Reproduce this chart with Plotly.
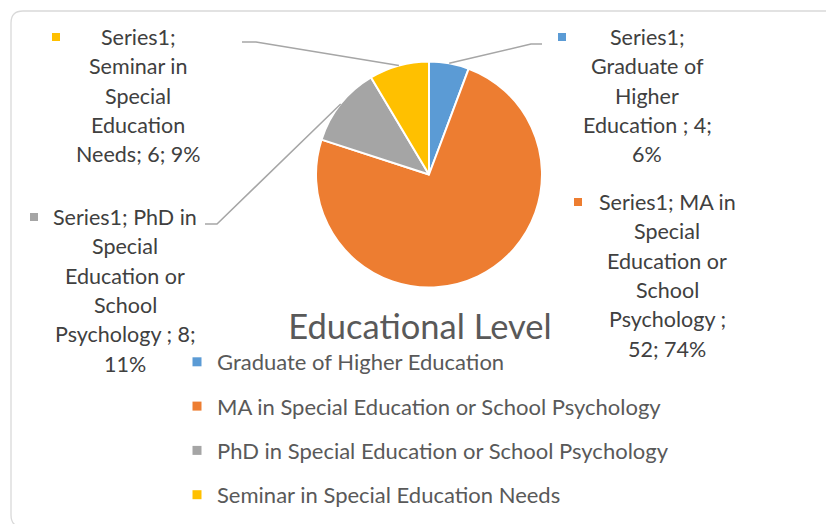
import math
import textwrap
import plotly.graph_objects as go

# data
categories = ['Graduate of Higher Education ', 'MA in Special Education or School Psychology ',
              'PhD in Special Education or School Psychology ', 'Seminar in Special Education Needs']
values = [4, 52, 8, 6]
colors = ['#5B9BD5', '#ED7D31', '#A5A5A5', '#FFC000']
series_name = 'Series1'
title_text = 'Educational Level'

W, H = 834, 524
OFF = 8  # page body margin
CX, CY, R = 429, 174.5, 113
FONT = 'Lato'


def px_x(p):
    return (p - OFF) / W


def px_y(p):
    return 1 - (p - OFF) / H


# label layout: (centre x, first line y, marker x, wrap width, leader start, leader elbow)
label_layout = [
    (647, 37, 562, 14, (542, 44), (531, 44)),
    (667, 202, 578, 14, None, None),
    (125, 217, 34, 15, (205, 224), (217, 224)),
    (138, 37, 56, 12, (242, 42), (256, 42)),
]
LINE_STEP = 29.3

total = sum(values)

fig = go.Figure()
fig.add_trace(go.Pie(
    labels=[c.strip() for c in categories], values=values, sort=False, direction='clockwise',
    rotation=0, marker=dict(colors=colors, line=dict(color='white', width=2)),
    textinfo='none', hoverinfo='label+value+percent', showlegend=False,
    domain=dict(x=[px_x(CX - R), px_x(CX + R)], y=[px_y(CY + R), px_y(CY - R)]),
))

# legend entries
for c, col in zip(categories, colors):
    fig.add_trace(go.Scatter(x=[None], y=[None], mode='markers', name=c.strip(), legendgroup=c,
                             marker=dict(symbol='square', size=9, color=col)))

annotations = []
shapes = []
cum = 0
for v, c, col, (lx, ly, mx, wrap_w, p0, p1) in zip(values, categories, colors, label_layout):
    mid = (cum + v / 2) / total * 360
    cum += v
    pct = round(v / total * 100)
    text = ' '.join(f'{series_name}; {c}; {v}; {pct}%'.split())
    lines = textwrap.wrap(text, wrap_w, break_on_hyphens=False)
    for i, ln in enumerate(lines):
        annotations.append(dict(x=lx, y=ly + i * LINE_STEP, xref='x', yref='y', text=ln, showarrow=False,
                                xanchor='center', yanchor='middle',
                                font=dict(family=FONT, size=21.5, color='#404040')))
    shapes.append(dict(type='rect', xref='x', yref='y', x0=mx - 4, x1=mx + 4, y0=ly - 4, y1=ly + 4,
                       fillcolor=col, line=dict(width=0)))
    if p0 is not None:
        ex = CX + R * math.sin(math.radians(mid))
        ey = CY - R * math.cos(math.radians(mid))
        shapes.append(dict(type='path', xref='x', yref='y',
                           path=f'M {p0[0]},{p0[1]} L {p1[0]},{p1[1]} L {ex:.1f},{ey:.1f}',
                           line=dict(color='#A6A6A6', width=1.5)))

# chart area border
rr = 12
shapes.append(dict(type='path', xref='x', yref='y', layer='below',
                   path=(f'M 11,{11 + rr} Q 11,11 {11 + rr},11 L {838 - rr},11 Q 838,11 838,{11 + rr} '
                         f'L 838,{527 - rr} Q 838,527 {838 - rr},527 L {11 + rr},527 Q 11,527 11,{527 - rr} Z'),
                   line=dict(color='#D9D9D9', width=1.3)))

fig.update_layout(
    width=W, height=H, margin=dict(l=0, r=0, t=0, b=0),
    paper_bgcolor='white', plot_bgcolor='white',
    xaxis=dict(range=[OFF, W + OFF], visible=False, fixedrange=True),
    yaxis=dict(range=[H + OFF, OFF], visible=False, fixedrange=True),
    title=dict(text=title_text, x=px_x(420), xanchor='center', y=px_y(327), yanchor='middle',
               font=dict(family=FONT, size=34.5, color='#595959')),
    legend=dict(x=px_x(177), y=px_y(341), xanchor='left', yanchor='top', tracegroupgap=12.7,
                font=dict(family=FONT, size=22, color='#595959'), bgcolor='rgba(0,0,0,0)'),
    shapes=shapes, annotations=annotations,
)

fig.write_html('out.html')
